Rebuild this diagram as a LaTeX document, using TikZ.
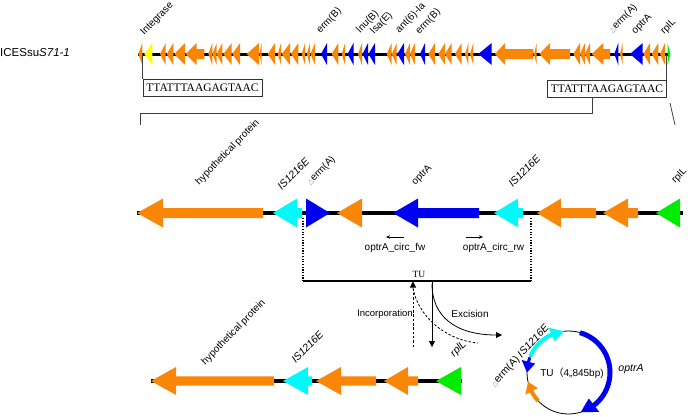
\documentclass[tikz,border=0pt]{standalone}
\usepackage{fontspec}
\setmainfont{Liberation Sans}
\newfontfamily\seriffont{Liberation Serif}
\newfontfamily\symfont{DejaVu Sans}
\newfontfamily\cjkfont{Noto Sans CJK SC}
\usetikzlibrary{arrows.meta,calc}
\definecolor{gOrange}{RGB}{250,134,8}
\definecolor{gBlue}{RGB}{0,0,240}
\definecolor{gCyan}{RGB}{0,250,250}
\definecolor{gGreen}{RGB}{0,235,0}
\definecolor{gYellow}{RGB}{255,255,0}
% color, tip, head base, body end, y, half head, half body
\newcommand\gene[7]{\fill[#1] (#2,-#5) -- (#3,-#5+#6) -- (#3,-#5+#7) -- (#4,-#5+#7) -- (#4,-#5-#7) -- (#3,-#5-#7) -- (#3,-#5-#6) -- cycle;}
\newcommand\tg[4]{\gene{#1}{#2}{#3}{#4}{54}{11}{5}}
\newcommand\mg[4]{\gene{#1}{#2}{#3}{#4}{213}{14.5}{5}}
\newcommand\bg[4]{\gene{#1}{#2}{#3}{#4}{381}{14}{4.7}}
\newcommand\dtri{{\color{black!45}\symfont\fontsize{7}{8}\selectfont △}}
\begin{document}
\begin{tikzpicture}[x=1pt,y=1pt,
  glabel/.style={rotate=46,anchor=south west,inner sep=0.5pt,font=\fontsize{10}{12}\selectfont},
  ptext/.style={inner sep=0.5pt,font=\fontsize{10}{12}\selectfont},
  seqbox/.style={draw=black!80,line width=0.7pt,minimum width=119pt,minimum height=17pt,inner sep=0pt,font=\seriffont\fontsize{11.5}{12}\selectfont},
  thinline/.style={draw=black!75,line width=0.8pt},
  backbone/.style={line width=3.5pt},
  dotline/.style={line width=1.1pt,dash pattern=on 1.2pt off 1.5pt},
  dashline/.style={line width=0.8pt,dash pattern=on 2.5pt off 1.8pt}]
\useasboundingbox (0,0) rectangle (696,-416);

% ---------------- top row ----------------
\node[anchor=west,inner sep=0pt,font=\fontsize{11.5}{13}\selectfont] (ices) at (0,-53) {ICESsu\textit{S71-1}};
\draw[line width=3pt] (138,-54) -- (670,-54);
\tg{gOrange}{138.3}{142.3}{142.3}
\tg{gYellow}{144.3}{152.3}{152.3}
\tg{gOrange}{160}{165.7}{165.7}
\tg{gOrange}{166.7}{173.3}{173.3}
\tg{gOrange}{174.3}{185}{185}
\tg{gOrange}{185.7}{196.7}{204.3}
\tg{gOrange}{208.3}{212.3}{212.3}
\tg{gOrange}{212.3}{216.7}{216.7}
\tg{gOrange}{216.7}{222.3}{222.3}
\tg{gOrange}{223.3}{231.7}{231.7}
\tg{gOrange}{232.3}{240}{240}
\tg{gOrange}{246.7}{259}{259}
\tg{gOrange}{259.5}{261.5}{261.5}
\tg{gOrange}{267.7}{275}{275}
\tg{gOrange}{277.7}{281}{281}
\tg{gOrange}{281.7}{290}{290}
\tg{gOrange}{291}{298.3}{298.3}
\tg{gOrange}{301.7}{305}{305}
\tg{gOrange}{306.7}{310}{310}
\tg{gOrange}{310.5}{315}{315}
\tg{gBlue}{321}{327}{327}
\tg{gOrange}{331.7}{338.3}{338.3}
\tg{gOrange}{341.7}{345}{345}
\tg{gBlue}{347.5}{353.5}{353.5}
\tg{gOrange}{358}{362}{362}
\tg{gBlue}{362.5}{368}{368}
\tg{gBlue}{368.5}{375}{375}
\tg{gOrange}{386.7}{391.7}{391.7}
\tg{gOrange}{391.7}{396.7}{396.7}
\tg{gBlue}{397.3}{404}{404}
\tg{gOrange}{405}{410}{410}
\tg{gOrange}{410}{415}{415}
\tg{gBlue}{420}{425}{425}
\tg{gOrange}{428.3}{435}{435}
\tg{gOrange}{438.3}{445}{445}
\tg{gOrange}{445}{451.7}{451.7}
\tg{gOrange}{455}{461.7}{461.7}
\tg{gOrange}{465}{468.3}{468.3}
\tg{gOrange}{470}{473.3}{473.3}
\tg{gBlue}{478.3}{491.7}{491.7}
\tg{gOrange}{495}{505}{533.3}
\tg{gOrange}{534}{536.7}{536.7}
\tg{gOrange}{539.3}{550}{570}
\tg{gOrange}{573.3}{580}{580}
\tg{gOrange}{580}{585}{585}
\tg{gOrange}{585}{590}{590}
\tg{gOrange}{591.7}{603.3}{610}
\tg{gBlue}{614.3}{618.3}{618.3}
\tg{gOrange}{620}{622.7}{622.7}
\tg{gBlue}{630}{642.7}{642.7}
\tg{gOrange}{643.3}{650}{650}
\tg{gOrange}{651.7}{658.3}{658.3}
\tg{gOrange}{660}{665}{665}
\tg{gGreen}{670.5}{667.5}{667.5}

\node[glabel] (lInt) at (146,-38) {Integrase};
\node[glabel] (lErm1) at (322,-36) {erm(B)};
\node[glabel] (lLnu) at (362,-36) {lnu(B)};
\node[glabel] (lLsa) at (376,-37) {lsa(E)};
\node[glabel] (lAnt) at (401,-36) {ant(6)-Ia};
\node[glabel] (lErm2) at (421,-37) {erm(B)};
\node[glabel] (lDerm) at (614,-36) {\dtri erm(A)};
\node[glabel] (lOpt) at (637,-37) {optrA};
\node[glabel] (lRpl) at (666,-37) {rplL};

% sequence boxes and brackets
\node[seqbox] (boxL) at (202.5,-87.5) {TTATTTAAGAGTAAC};
\node[seqbox] (boxR) at (607,-88.5) {TTATTTAAGAGTAAC};
\draw[thinline] (boxL.north west) -- ++(0,24);
\draw[thinline] (boxR.north east) -- ++(0,25);
\coordinate (brL) at (140,-125);
\coordinate (brR) at (592,-113);
\draw[thinline] (brL) |- (brR) -- (brR |- boxR.south);
\coordinate (diagA) at (670,-103);
\coordinate (diagB) at (675,-125);
\draw[thinline] (diagA) -- (diagB);

% ---------------- middle row ----------------
\draw[backbone] (137,-213) -- (683,-213);
\mg{gOrange}{137}{163}{263}
\mg{gCyan}{273}{297}{302}
\mg{gBlue}{330}{306}{306}
\mg{gOrange}{337}{362}{362}
\mg{gBlue}{393}{418}{479}
\mg{gCyan}{494}{518}{523}
\mg{gOrange}{537}{561}{596}
\mg{gOrange}{603}{628}{638}
\mg{gGreen}{656}{680}{680}

\node[glabel] (mHyp) at (201,-188) {hypothetical protein};
\node[glabel,font=\fontsize{10.5}{12}\selectfont\itshape] (mIS1) at (282,-192) {IS1216E};
\node[glabel] (mDerm) at (312,-188) {\dtri erm(A)};
\node[glabel] (mOpt) at (417,-188) {optrA};
\node[glabel,font=\fontsize{10.5}{12}\selectfont\itshape] (mIS2) at (513,-189) {IS1216E};
\node[glabel] (mRpl) at (677,-186) {rplL};

% primers
\coordinate (fwA) at (404,-237);
\coordinate (fwB) at (386,-237);
\coordinate (rwA) at (466,-237);
\coordinate (rwB) at (483,-237);
\draw[line width=1pt,-{Stealth[length=4pt,width=3.5pt]}] (fwA) -- (fwB);
\draw[line width=1pt,-{Stealth[length=4pt,width=3.5pt]}] (rwA) -- (rwB);
\node[ptext] (fwl) at (395,-248) {optrA\_circ\_fw};
\node[ptext] (rwl) at (493.5,-248) {optrA\_circ\_rw};

% TU bracket
\coordinate (tuL) at (303,-281);
\coordinate (tuR) at (531,-281);
\draw[dotline] (303,-218) -- (tuL);
\draw[dotline] (531,-218) -- (tuR);
\draw[line width=1.2pt] (tuL) -- (tuR);
\node[inner sep=0pt,font=\seriffont\fontsize{9.5}{10}\selectfont] (tu) at (419,-274) {TU};

% incorporation / excision
\coordinate (incB) at (413,-347);
\coordinate (incT) at (413,-281.5);
\coordinate (exT) at (432,-281);
\coordinate (exB) at (432,-347);
\draw[dashline,-{Triangle[length=6pt,width=6pt]}] (incB) -- (incT);
\draw[dashline] (413,-288) .. controls (418,-316) and (445,-340) .. (478,-343);
\draw[line width=0.8pt,-{Triangle[length=6pt,width=6pt]}] (exT) -- (exB);
\draw[line width=0.8pt,-{Triangle[length=6pt,width=6pt]}] (432,-284) .. controls (432,-316) and (455,-335) .. (502,-335);
\node[ptext,font=\fontsize{9.5}{11}\selectfont] (inc) at (385,-314) {Incorporation};
\node[ptext] (exc) at (470,-314) {Excision};

% ---------------- bottom row ----------------
\draw[backbone] (151,-381) -- (462,-381);
\bg{gOrange}{151}{176}{274}
\bg{gCyan}{283}{308}{312}
\bg{gOrange}{316}{341}{376}
\bg{gOrange}{384}{408}{418}
\bg{gGreen}{436}{461}{461}

\node[glabel] (bHyp) at (207,-368) {hypothetical protein};
\node[glabel,font=\fontsize{10.5}{12}\selectfont\itshape] (bIS) at (296,-365) {IS1216E};
\node[glabel,font=\fontsize{10.5}{12}\selectfont\itshape] (bRpl) at (456,-360) {rplL};

% ---------------- circle ----------------
\coordinate (cc) at (568.5,-372.5);
\draw[line width=0.8pt] (cc) circle (41.5);
% optrA
\draw[gBlue,line width=5pt] ([shift={(74:41.5)}]cc) arc (74:-54:41.5);
\fill[gBlue] ([shift={(-52:33)}]cc) -- ([shift={(-52:50)}]cc) -- ([shift={(-73:41.5)}]cc) -- cycle;
% IS1216E
\draw[gCyan,line width=4pt] ([shift={(157:41.5)}]cc) arc (157:112:41.5);
\fill[gCyan] ([shift={(114:34)}]cc) -- ([shift={(114:49)}]cc) -- ([shift={(96.5:41.5)}]cc) -- cycle;
% erm(A)
\draw[gBlue,line width=3pt] ([shift={(159:41.5)}]cc) arc (159:166:41.5);
\fill[gBlue] ([shift={(165:34.5)}]cc) -- ([shift={(165:48.5)}]cc) -- ([shift={(180:41.5)}]cc) -- cycle;
% orange
\draw[gOrange,line width=4pt] ([shift={(223:41.5)}]cc) arc (223:205:41.5);
\fill[gOrange] ([shift={(207:34.5)}]cc) -- ([shift={(207:48.5)}]cc) -- ([shift={(193:41.5)}]cc) -- cycle;

\node[ptext] (ctu) at (572,-373) {TU{\cjkfont （}4,,845bp)};
\node[ptext,font=\fontsize{10.5}{12}\selectfont\itshape] (copt) at (631,-369) {optrA};
\node[rotate=47,anchor=south west,inner sep=0.5pt,font=\fontsize{10.5}{12}\selectfont] (clab) at (496,-390) {\dtri erm(A) \textit{IS1216E}};
\end{tikzpicture}
\end{document}
